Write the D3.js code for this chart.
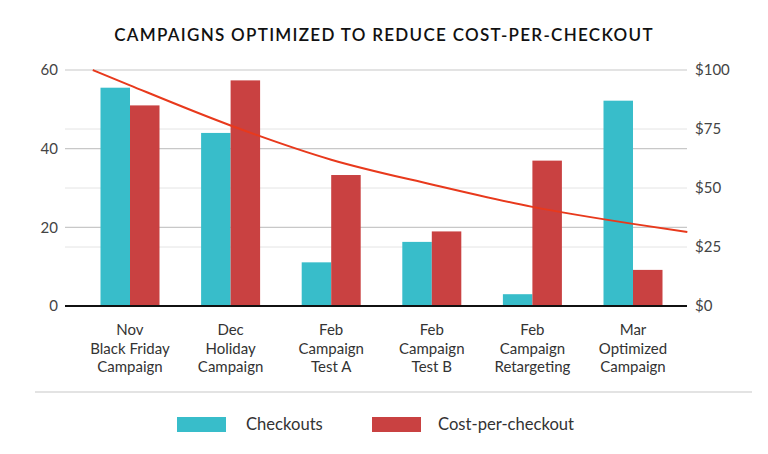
<!DOCTYPE html>
<html>
<head>
<meta charset="utf-8">
<script src="https://cdn.jsdelivr.net/npm/d3@7"></script>
<style>
  body { margin: 0; background: #fff; }
  svg { display: block; font-family: Lato, "Open Sans", sans-serif; }
</style>
</head>
<body>
<svg id="chart" width="768" height="454"></svg>
<script>
// chart values
var campaigns = [
  ['Nov', 'Black Friday', 'Campaign'],
  ['Dec', 'Holiday', 'Campaign'],
  ['Feb', 'Campaign', 'Test A'],
  ['Feb', 'Campaign', 'Test B'],
  ['Feb', 'Campaign', 'Retargeting'],
  ['Mar', 'Optimized', 'Campaign']
];
var checkouts = [55.5, 44.0, 11.1, 16.3, 3.0, 52.2];
var costPerCheckout = [85, 95.6, 55.5, 31.6, 61.6, 15.3];
// trend line of cost-per-checkout (position in category units, dollars)
var trendPos = [-0.37, 0, 1, 2, 3, 4, 5, 5.54];
var trendCost = [100, 93.5, 76.5, 62, 51.5, 42, 34.8, 31.4];
var leftTicks = [0, 20, 40, 60];
var rightTicks = [0, 25, 50, 75, 100];
var seriesNames = ['Checkouts', 'Cost-per-checkout'];
var colors = ['#38bdca', '#c94141'];

var svg = d3.select('#chart');
var plotL = 65, plotR = 687, plotT = 70, plotB = 306;

var ids = d3.range(campaigns.length);
var x = d3.scaleBand().domain(ids).range([79.7, 683.3]);
var bw = x.bandwidth();
var barW = 29.5;
var yL = d3.scaleLinear().domain([0, 60]).range([plotB, plotT]);
var yR = d3.scaleLinear().domain([0, 100]).range([plotB, plotT]);
var xTrend = d3.scaleLinear().domain([0, 5]).range([x(0) + bw / 2, x(5) + bw / 2]);

/* title */
svg.append('text')
  .attr('x', 384).attr('y', 41)
  .attr('text-anchor', 'middle')
  .style('font-size', '17px').style('font-weight', 600)
  .style('letter-spacing', '1.3px').style('fill', '#111')
  .text('CAMPAIGNS OPTIMIZED TO REDUCE COST-PER-CHECKOUT');

/* gridlines: right axis ones lighter */
var g = svg.append('g');
g.selectAll('.gr').data([25, 50, 75])
  .enter().append('line')
  .attr('x1', plotL).attr('x2', plotR)
  .attr('y1', function(d) { return yR(d); }).attr('y2', function(d) { return yR(d); })
  .style('stroke', '#e4e4e4').style('stroke-width', 1);
g.selectAll('.gl').data(leftTicks.filter(function(d) { return d > 0; }))
  .enter().append('line')
  .attr('x1', plotL).attr('x2', plotR)
  .attr('y1', function(d) { return yL(d); }).attr('y2', function(d) { return yL(d); })
  .style('stroke', '#c8c8c8').style('stroke-width', 1.2);

/* axes (labels only) */
var axL = svg.append('g').attr('transform', 'translate(' + (plotL - 7) + ',0)')
  .call(d3.axisLeft(yL).tickValues(leftTicks).tickSize(0).tickPadding(0));
var axR = svg.append('g').attr('transform', 'translate(' + (plotR + 8) + ',0)')
  .call(d3.axisRight(yR).tickValues(rightTicks).tickSize(0).tickPadding(0)
    .tickFormat(function(d) { return '$' + d; }));
[axL, axR].forEach(function(a) {
  a.select('.domain').remove();
  a.selectAll('text').style('font-size', '15px').style('fill', '#444')
    .style('font-family', 'Lato, sans-serif');
});

/* bars */
var groups = svg.selectAll('.grp').data(ids).enter().append('g')
  .attr('transform', function(i) { return 'translate(' + (x(i) + bw / 2 - barW) + ',0)'; });
groups.append('rect')
  .attr('x', 0).attr('width', barW)
  .attr('y', function(i) { return yL(checkouts[i]); })
  .attr('height', function(i) { return plotB - yL(checkouts[i]); })
  .style('fill', colors[0]);
groups.append('rect')
  .attr('x', barW).attr('width', barW)
  .attr('y', function(i) { return yR(costPerCheckout[i]); })
  .attr('height', function(i) { return plotB - yR(costPerCheckout[i]); })
  .style('fill', colors[1]);

/* baseline */
svg.append('line')
  .attr('x1', plotL).attr('x2', plotR).attr('y1', plotB).attr('y2', plotB)
  .style('stroke', '#111').style('stroke-width', 2);

/* trend line */
var line = d3.line()
  .x(function(d, i) { return xTrend(trendPos[i]); })
  .y(function(d) { return yR(d); })
  .curve(d3.curveMonotoneX);
svg.append('path').datum(trendCost)
  .attr('d', line)
  .style('fill', 'none').style('stroke', '#e8391c').style('stroke-width', 2);

/* category labels */
var labels = svg.selectAll('.cat').data(ids).enter().append('text')
  .attr('text-anchor', 'middle')
  .attr('x', function(i) { return x(i) + bw / 2; })
  .attr('y', 335)
  .style('font-size', '15px').style('fill', '#333');
labels.selectAll('tspan').data(function(i) { return campaigns[i]; }).enter().append('tspan')
  .attr('x', function() { return d3.select(this.parentNode).attr('x'); })
  .attr('dy', function(d, j) { return j === 0 ? 0 : 18.5; })
  .text(function(d) { return d; });

/* separator */
svg.append('line')
  .attr('x1', 35).attr('x2', 752).attr('y1', 392).attr('y2', 392)
  .style('stroke', '#c8c8c8').style('stroke-width', 1.2);

/* legend */
var legX = [177, 372];
var leg = svg.selectAll('.leg').data(seriesNames).enter().append('g')
  .attr('transform', function(d, i) { return 'translate(' + legX[i] + ',417)'; });
leg.append('rect').attr('width', 49).attr('height', 15)
  .style('fill', function(d, i) { return colors[i]; });
leg.append('text').attr('x', function(d, i) { return i === 0 ? 69 : 66; }).attr('y', 13)
  .style('font-size', '16.6px').style('fill', '#333')
  .text(function(d) { return d; });
</script>
</body>
</html>
